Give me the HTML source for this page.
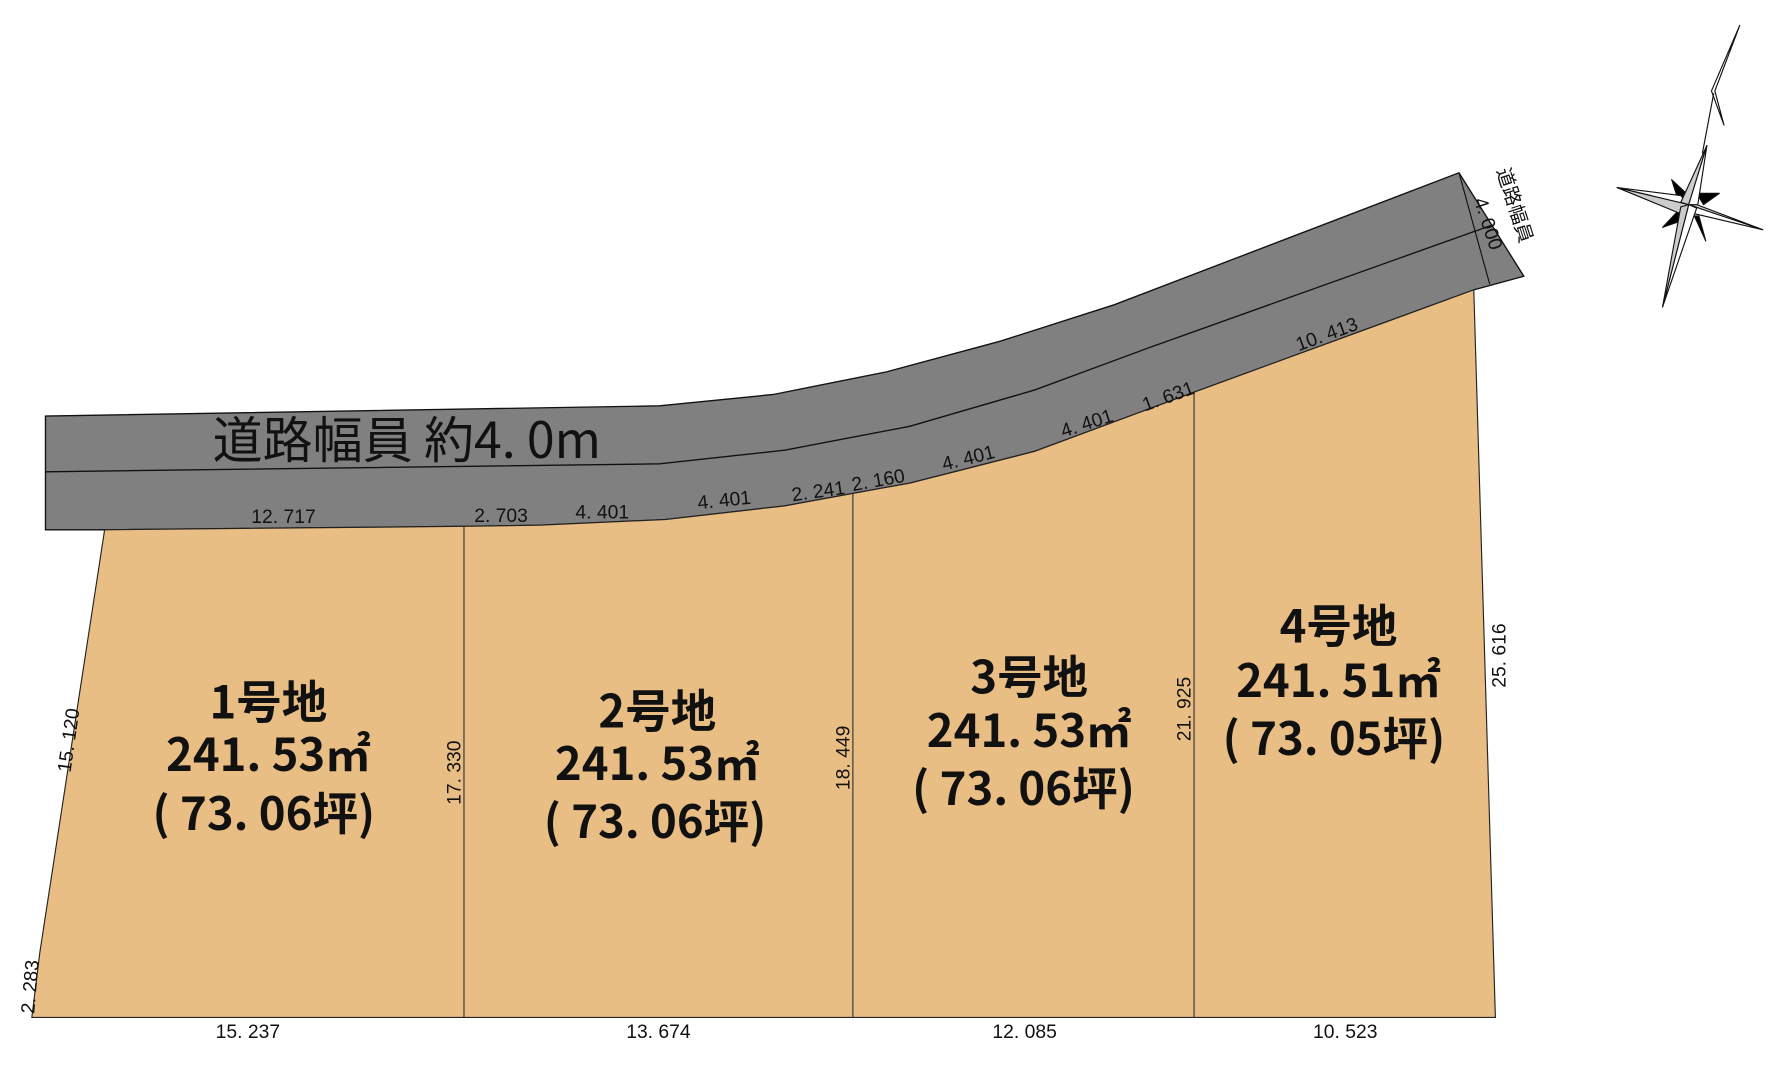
<!DOCTYPE html>
<html><head><meta charset="utf-8"><style>
html,body{margin:0;padding:0;background:#fff;}
svg{display:block;}
text{font-family:"Liberation Sans","Noto Sans CJK JP",sans-serif;fill:#111;}
.d{font-size:17px;}
.b{font-size:40px;font-family:"Noto Sans CJK JP",sans-serif;font-weight:bold;}
</style></head><body>
<svg width="1774" height="1080" viewBox="0 0 1560 950" preserveAspectRatio="none">
<polygon fill="#808080" stroke="#111" stroke-width="1.2" points="40,366 580,357 680,347 780,327 880,300 980,268 1283,152 1340,243 1296,255 1050,345 910,397 800,425 750,434 690,445 585,457 475,462 408,463 92,466 40,466"/>
<polyline fill="none" stroke="#111" stroke-width="1.2" points="40,415 580,408 690,396 800,375 910,343 1010,306 1312,198"/>
<line x1="1283" y1="152" x2="1310" y2="250" stroke="#111" stroke-width="1"/>
<polygon fill="#E9BE84" stroke="#222" stroke-width="1" points="92,466 408,463 475,462 585,457 690,445 750,434 800,425 910,397 1050,345 1296,255 1315,895 28,895 35,838"/>
<line x1="408" y1="463" x2="408" y2="895" stroke="#333"/>
<line x1="750" y1="434" x2="750" y2="895" stroke="#333"/>
<line x1="1050" y1="345" x2="1050" y2="895" stroke="#333"/>
<text x="187" y="403" style="font-size:44px;font-family:'Noto Sans CJK JP',sans-serif">道路幅員  約4. 0m</text>
<text class="d" x="221" y="460">12. 717</text>
<text class="d" x="417" y="459">2. 703</text>
<text class="d" x="506" y="456">4. 401</text>
<text class="d" x="614" y="448" transform="rotate(-6 614 448)">4. 401</text>
<text class="d" x="697" y="441" transform="rotate(-8 697 441)">2. 241</text>
<text class="d" x="750" y="432" transform="rotate(-10 750 432)">2. 160</text>
<text class="d" x="830" y="414" transform="rotate(-14 830 414)">4. 401</text>
<text class="d" x="935" y="385" transform="rotate(-18 935 385)">4. 401</text>
<text class="d" x="1007" y="362" transform="rotate(-20 1007 362)">1. 631</text>
<text class="d" x="1142" y="309" transform="rotate(-20 1142 309)">10. 413</text>
<text class="d" x="1296" y="176" transform="rotate(72 1296 176)">4. 000</text>
<text x="1316" y="150" style="font-size:17px" transform="rotate(72 1316 150)">道路幅員</text>
<text class="d" x="62" y="680" transform="rotate(-82 62 680)">15. 120</text>
<text class="d" x="405" y="708" transform="rotate(-90 405 708)">17. 330</text>
<text class="d" x="747" y="695" transform="rotate(-90 747 695)">18. 449</text>
<text class="d" x="1047" y="652" transform="rotate(-90 1047 652)">21. 925</text>
<text class="d" x="1324" y="605" transform="rotate(-90 1324 605)">25. 616</text>
<text class="d" x="30" y="892" transform="rotate(-85 30 892)">2. 283</text>
<text class="d" x="218" y="913" text-anchor="middle">15. 237</text>
<text class="d" x="579" y="913" text-anchor="middle">13. 674</text>
<text class="d" x="901" y="913" text-anchor="middle">12. 085</text>
<text class="d" x="1183" y="913" text-anchor="middle">10. 523</text>
<g text-anchor="middle">
<text class="b" x="236" y="632">1号地</text>
<text class="b" x="236" y="678">241. 53㎡</text>
<text class="b" x="232" y="730">( 73. 06坪)</text>
<text class="b" x="578" y="640">2号地</text>
<text class="b" x="578" y="686">241. 53㎡</text>
<text class="b" x="576" y="737">( 73. 06坪)</text>
<text class="b" x="905" y="610">3号地</text>
<text class="b" x="905" y="657">241. 53㎡</text>
<text class="b" x="900" y="708">( 73. 06坪)</text>
<text class="b" x="1177" y="565">4号地</text>
<text class="b" x="1177" y="613">241. 51㎡</text>
<text class="b" x="1173" y="664">( 73. 05坪)</text>
</g>
<g stroke="#111" stroke-width="1" stroke-linejoin="round">
<polyline fill="none" points="1530,22 1505,80 1516,110 1508,80 1530,22"/>
<line x1="1507" y1="82" x2="1497" y2="135"/>
<polygon fill="#000" points="1470,158 1486,173 1478,183"/>
<polygon fill="#000" points="1512,170 1498,180 1492,170"/>
<polygon fill="#000" points="1462,200 1478,183 1482,193"/>
<polygon fill="#000" points="1500,212 1490,190 1494,190"/>
<polygon fill="#fff" points="1422,165 1478,172 1485,180"/>
<polygon fill="#ccc" points="1422,165 1485,180 1478,188"/>
<polygon fill="#fff" points="1550,202 1490,188 1485,180"/>
<polygon fill="#ccc" points="1550,202 1492,180 1485,180"/>
<polygon fill="#ccc" points="1501,128 1478,178 1485,180"/>
<polygon fill="#fff" points="1501,128 1485,180 1493,180"/>
<polygon fill="#fff" points="1462,270 1492,183 1485,180"/>
<polygon fill="#ccc" points="1462,270 1485,180 1478,182"/>
</g>
</svg>
</body></html>
